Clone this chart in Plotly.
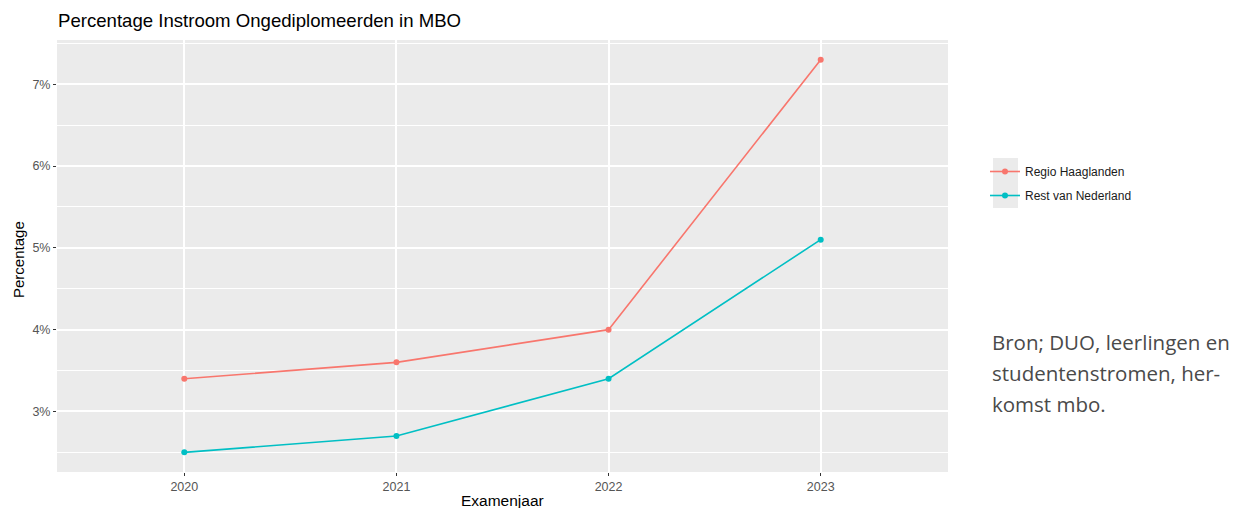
import plotly.graph_objects as go

years = [2020, 2021, 2022, 2023]
haaglanden = [3.4, 3.6, 4.0, 7.3]
rest_nl = [2.5, 2.7, 3.4, 5.1]
series_names = ["Regio Haaglanden", "Rest van Nederland"]
series_colors = ["#F8766D", "#00BFC4"]
y_ticks = [3, 4, 5, 6, 7]
y_ticklabels = ["3%", "4%", "5%", "6%", "7%"]
y_minor = [2.5, 3.5, 4.5, 5.5, 6.5, 7.5]
source_lines = ["Bron; DUO, leerlingen en", "studentenstromen, her-", "komst mbo."]

# page body has an 8px margin, so the figure is drawn 8px right/down
OFF = 8
W, H = 1240 - OFF, 508 - OFF
PL, PR, PT, PB = 57, 948, 40, 472  # plot area in reference pixels
L, T = PL - OFF, PT - OFF
R, B = 1240 - PR, 508 - PB
pw = PR - PL
ph = PB - PT

def px_x(x):
    return (x - PL) / pw

def px_y(y):
    return (PB - y) / ph

FONT = "Liberation Sans, Arial, sans-serif"

fig = go.Figure()
for name, vals, col in zip(series_names, [haaglanden, rest_nl], series_colors):
    fig.add_trace(go.Scatter(
        x=years, y=vals, name=name, legendgroup=name, mode="lines+markers",
        line=dict(color=col, width=1.6),
        marker=dict(color=col, size=6),
    ))

tick_font = dict(family=FONT, size=12.5, color="#555555")

fig.update_layout(
    width=W, height=H,
    margin=dict(l=L, r=R, t=T, b=B, autoexpand=False),
    paper_bgcolor="white",
    plot_bgcolor="#EBEBEB",
    title=dict(
        text="Percentage Instroom Ongediplomeerden in MBO",
        x=(58 - OFF) / W, xref="container", xanchor="left",
        y=1 - (20 - OFF) / H, yref="container", yanchor="middle",
        font=dict(family=FONT, size=18.6, color="#000000"),
    ),
    xaxis=dict(
        range=[2019.4, 2023.6], tickvals=years, ticktext=[str(y) for y in years],
        showgrid=True, gridcolor="white", gridwidth=1.5,
        zeroline=False, showline=False,
        ticks="outside", ticklen=3, tickcolor="#333333", tickwidth=1,
        tickfont=tick_font,
    ),
    yaxis=dict(
        range=[2.26, 7.54], tickvals=y_ticks, ticktext=y_ticklabels,
        showgrid=True, gridcolor="white", gridwidth=1.5,
        zeroline=False, showline=False,
        ticks="outside", ticklen=3, tickcolor="#333333", tickwidth=1,
        tickfont=tick_font,
        minor=dict(tickvals=y_minor, showgrid=True, gridcolor="white", gridwidth=0.7, ticks=""),
    ),
    legend=dict(
        x=px_x(985), y=px_y(157), xanchor="left", yanchor="top",
        bgcolor="rgba(0,0,0,0)",
        font=dict(family=FONT, size=12, color="#1a1a1a"),
        itemwidth=30,
        tracegroupgap=5,
    ),
    showlegend=True,
)

# grey legend key boxes (ggplot style)
fig.add_shape(type="rect", xref="paper", yref="paper",
              x0=px_x(993), x1=px_x(1018), y0=px_y(208), y1=px_y(158),
              fillcolor="#EBEBEB", line=dict(width=0), layer="below")

# axis titles
fig.add_annotation(text="Percentage", xref="paper", yref="paper",
                   x=px_x(18), y=px_y(260), textangle=-90, showarrow=False,
                   xanchor="center", yanchor="middle",
                   font=dict(family=FONT, size=15, color="#000000"))
fig.add_annotation(text="Examenjaar", xref="paper", yref="paper",
                   x=px_x(502), y=px_y(501), showarrow=False,
                   xanchor="center", yanchor="middle",
                   font=dict(family=FONT, size=15.5, color="#000000"))

# source note
for i, line in enumerate(source_lines):
    fig.add_annotation(text=line, xref="paper", yref="paper",
                       x=px_x(990), y=px_y(342 + i * 31),
                       xanchor="left", yanchor="middle", align="left", showarrow=False,
                       font=dict(family="Open Sans, sans-serif", size=20.5, color="#4a4a4a"))

fig.write_html("out.html")
